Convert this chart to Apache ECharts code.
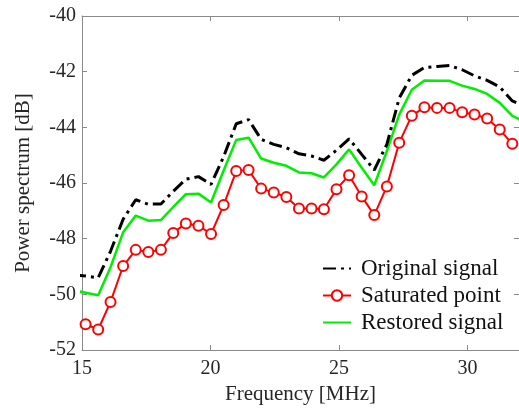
<!DOCTYPE html>
<html lang="en">
<head>
    <title>Power spectrum</title>
    <meta charset="utf-8" />
    <script src="https://cdn.jsdelivr.net/npm/echarts@6.0.0/dist/echarts.min.js"></script>
    <style>
        body {
            margin: 0;
            background-color: #ffffff;
        }
        #main {
            width: 519px;
            height: 410px;
        }
    </style>
</head>
<body>
<div id="main"></div>
<script>
    // frequency bins [MHz]
    let freq = [14.65, 15.14, 15.63, 16.11, 16.60, 17.09, 17.58, 18.07, 18.55, 19.04,
        19.53, 20.02, 20.51, 21.00, 21.48, 21.97, 22.46, 22.95, 23.44, 23.93,
        24.41, 24.90, 25.39, 25.88, 26.37, 26.86, 27.34, 27.83, 28.32, 28.81,
        29.30, 29.79, 30.27, 30.76, 31.25, 31.74, 32.23]

    let original = [-49.30, -49.34, -49.40, -48.45, -47.30, -46.60, -46.76, -46.75, -46.30, -45.86,
        -45.77, -46.05, -45.05, -43.87, -43.72, -44.43, -44.61, -44.73, -44.95, -45.03,
        -45.18, -44.82, -44.41, -44.97, -45.53, -44.61, -42.95, -42.13, -41.85, -41.81,
        -41.78, -41.93, -42.15, -42.31, -42.55, -43.05, -43.25]

    let saturated = [null, -51.07, -51.26, -50.27, -48.98, -48.40, -48.48, -48.40, -47.79, -47.45,
        -47.53, -47.83, -46.79, -45.57, -45.53, -46.20, -46.34, -46.50, -46.91, -46.91,
        -46.94, -46.22, -45.72, -46.48, -47.15, -46.12, -44.55, -43.58, -43.28, -43.30,
        -43.30, -43.46, -43.54, -43.68, -44.08, -44.59, null]

    let restored = [-49.85, -49.94, -50.03, -49.02, -47.77, -47.17, -47.35, -47.33, -46.86, -46.40,
        -46.38, -46.70, -45.55, -44.45, -44.37, -45.12, -45.27, -45.38, -45.62, -45.65,
        -45.80, -45.33, -44.79, -45.45, -46.08, -44.85, -43.54, -42.65, -42.32, -42.33,
        -42.33, -42.50, -42.62, -42.80, -43.12, -43.59, -43.80]

    let seriesNames = ['Original signal', 'Saturated point', 'Restored signal']

    function pairs(values) {
        return freq.map(function (f, i) { return [f, values[i]] })
    }

    let fontFamily = '"Liberation Serif", "DejaVu Serif", serif'
    let axisColor = '#8a8a8a'
    let textColor = '#262626'

    let chart = echarts.init(document.getElementById('main'))

    chart.setOption({
        animation: false,
        textStyle: {
            fontFamily: fontFamily
        },
        grid: {
            left: 82,
            right: -2,
            top: 16,
            bottom: 58
        },
        legend: {
            orient: 'vertical',
            left: 317,
            top: 252,
            itemWidth: 28,
            itemHeight: 13,
            itemGap: 4,
            // lines without a marker get no dot in the legend
            data: [
                { name: seriesNames[0], itemStyle: { opacity: 0 } },
                { name: seriesNames[1] },
                { name: seriesNames[2], itemStyle: { opacity: 0 } }
            ],
            textStyle: {
                fontFamily: fontFamily,
                fontSize: 23,
                lineHeight: 22,
                color: '#111',
                padding: [0, 0, 0, 5]
            }
        },
        xAxis: [
            {
                type: 'value',
                min: 15,
                max: 32,
                interval: 5,
                name: 'Frequency [MHz]',
                nameLocation: 'middle',
                nameGap: 28,
                nameTextStyle: {
                    fontFamily: fontFamily,
                    fontSize: 21,
                    color: textColor
                },
                splitLine: { show: false },
                axisLine: { onZero: false, lineStyle: { color: axisColor, width: 1 } },
                axisTick: { inside: true, length: 5, lineStyle: { color: axisColor } },
                axisLabel: {
                    fontFamily: fontFamily,
                    fontSize: 20,
                    color: textColor,
                    margin: 9,
                    showMaxLabel: false
                }
            },
            {
                type: 'value',
                position: 'top',
                min: 15,
                max: 32,
                interval: 5,
                splitLine: { show: false },
                axisLine: { onZero: false, lineStyle: { color: axisColor, width: 1 } },
                axisTick: { inside: true, length: 5, lineStyle: { color: axisColor } },
                axisLabel: { show: false }
            }
        ],
        yAxis: [
            {
                type: 'value',
                min: -52,
                max: -40,
                interval: 2,
                name: 'Power spectrum [dB]',
                nameLocation: 'middle',
                nameGap: 48,
                nameTextStyle: {
                    fontFamily: fontFamily,
                    fontSize: 21,
                    color: textColor
                },
                splitLine: { show: false },
                axisLine: { show: true, onZero: false, lineStyle: { color: axisColor, width: 1 } },
                axisTick: { show: true, inside: true, length: 5, lineStyle: { color: axisColor } },
                axisLabel: {
                    fontFamily: fontFamily,
                    fontSize: 20,
                    color: textColor,
                    margin: 6
                }
            },
            {
                type: 'value',
                position: 'right',
                min: -52,
                max: -40,
                interval: 2,
                splitLine: { show: false },
                axisLine: { show: true, onZero: false, lineStyle: { color: axisColor, width: 1 } },
                axisTick: { show: true, inside: true, length: 5, lineStyle: { color: axisColor } },
                axisLabel: { show: false }
            }
        ],
        series: [
            {
                name: seriesNames[0],
                type: 'line',
                symbol: 'none',
                z: 3,
                lineStyle: {
                    color: '#000000',
                    width: 3,
                    type: [13, 5, 3, 5]
                },
                itemStyle: { color: '#000000' },
                data: pairs(original)
            },
            {
                name: seriesNames[1],
                type: 'line',
                symbol: 'emptyCircle',
                symbolSize: 10,
                z: 4,
                lineStyle: {
                    color: '#ff0000',
                    width: 2
                },
                itemStyle: {
                    color: '#ff0000',
                    borderColor: '#ff0000',
                    borderWidth: 1.6
                },
                data: pairs(saturated)
            },
            {
                name: seriesNames[2],
                type: 'line',
                symbol: 'none',
                z: 2,
                lineStyle: {
                    color: '#00ee00',
                    width: 2.5
                },
                itemStyle: { color: '#00ee00' },
                data: pairs(restored)
            }
        ]
    })
</script>
</body>
</html>
